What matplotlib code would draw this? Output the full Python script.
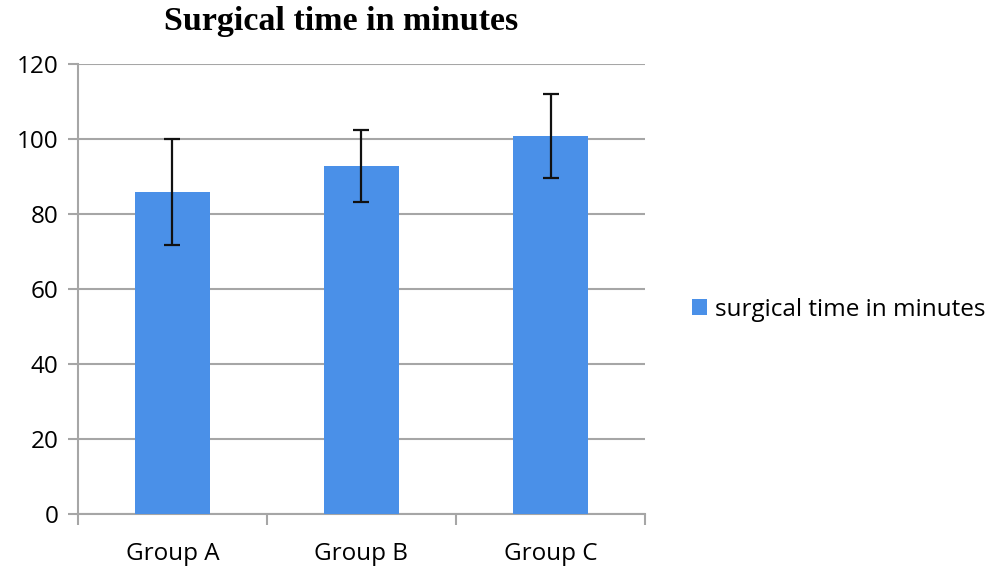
import matplotlib.pyplot as plt
import numpy as np

# data
groups = ['Group A', 'Group B', 'Group C']
surgical_time = [85.8, 92.8, 100.9]
sd = [14.1, 9.6, 11.2]
yticks = [0, 20, 40, 60, 80, 100, 120]

bar_color = '#4a90e8'
grid_color = '#a6a6a6'

fig = plt.figure(figsize=(9.96, 5.68), dpi=100)
ax = fig.add_axes([0.0783, 0.0951, 0.5693, 0.7922])

x = np.arange(len(groups))
ax.bar(x, surgical_time, width=0.4, color=bar_color, zorder=3,
       label='surgical time in minutes')
ax.errorbar(x, surgical_time, yerr=sd, fmt='none', ecolor='#111111',
            elinewidth=1.6, capsize=6, capthick=1.6, zorder=4)

ax.set_xlim(-0.5, len(groups) - 0.5)
ax.set_ylim(0, 120)
ax.set_yticks(yticks)
ax.yaxis.grid(True, color=grid_color, linewidth=1.5, zorder=0)

# category labels between boundary ticks
ax.set_xticks(np.arange(-0.5, len(groups), 1.0))
ax.set_xticklabels([])
ax.set_xticks(x, minor=True)
ax.set_xticklabels(groups, minor=True, fontsize=17.5, fontfamily='Open Sans')
ax.tick_params(axis='x', which='minor', length=0, pad=20)
ax.tick_params(axis='x', which='major', length=8, width=1.5, color=grid_color, direction='out')
ax.tick_params(axis='y', length=7, width=1.5, color=grid_color, labelsize=17.5, pad=7)
for lbl in ax.get_yticklabels():
    lbl.set_fontfamily('Open Sans')

for side in ['top', 'right']:
    ax.spines[side].set_visible(False)
for side in ['left', 'bottom']:
    ax.spines[side].set_color(grid_color)
    ax.spines[side].set_linewidth(1.5)

fig.text(0.342, 0.962, 'Surgical time in minutes', ha='center', va='center',
         fontsize=24.5, fontweight='bold', fontfamily='Liberation Serif')

leg = fig.legend(loc='center left', bbox_to_anchor=(0.678, 0.455), frameon=False,
                 prop={'family': 'Open Sans', 'size': 17.5}, handlelength=0.6,
                 handleheight=0.6, handletextpad=0.35, borderpad=0.2)

plt.savefig('out.png', dpi=100)
